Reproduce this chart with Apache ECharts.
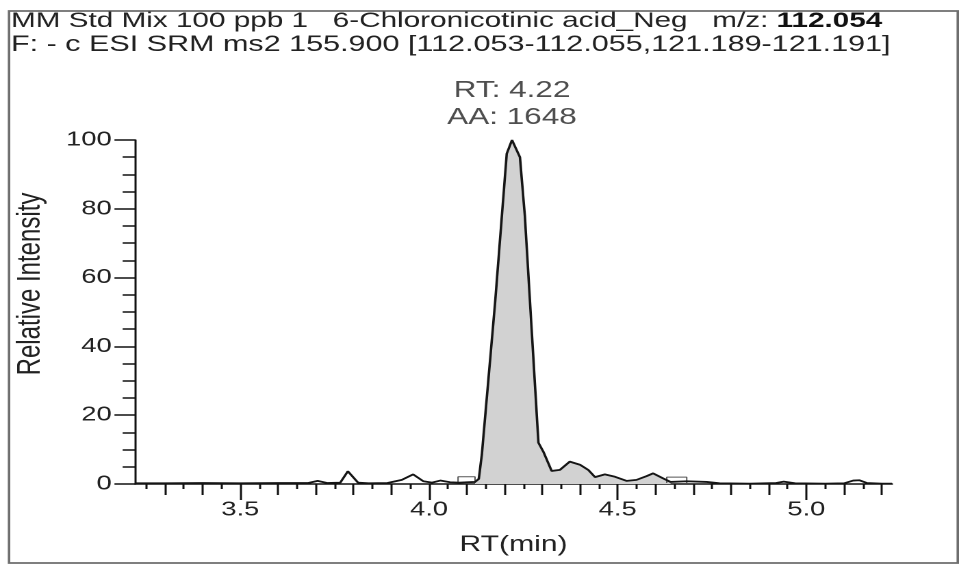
<!DOCTYPE html>
<html>
<head>
<meta charset="utf-8">
<title>6-Chloronicotinic acid SRM chromatogram</title>
<script src="https://cdn.jsdelivr.net/npm/echarts@6/dist/echarts.min.js"></script>
<style>
  html, body { margin: 0; padding: 0; background: #ffffff; overflow: hidden; }
  /* The instrument report uses a wide text face: the plot is laid out at 702px
     and widened to fill the 961px page. */
  #chart { width: 702px; height: 570px; transform: scaleX(1.369); transform-origin: 0 0; }
</style>
</head>
<body>
<div id="chart"></div>
<script>
// Header lines
const headerLine1 = 'MM Std Mix 100 ppb 1   6-Chloronicotinic acid_Neg   m/z: ';
const headerMz = '112.054';
const headerLine2 = 'F: - c ESI SRM ms2 155.900 [112.053-112.055,121.189-121.191]';

// Peak annotation
const peakRT = 4.22;
const peakArea = 1648;

// Retention time (min) and relative intensity (%) of the trace
const rtMin = [3.221, 3.30, 3.40, 3.50, 3.60, 3.68, 3.705, 3.73, 3.765, 3.785, 3.812, 3.84,
  3.89, 3.928, 3.958, 3.985, 4.008, 4.03, 4.056, 4.08, 4.10, 4.122, 4.132, 4.140, 4.175,
  4.206, 4.22, 4.241, 4.254, 4.272, 4.29, 4.303, 4.325, 4.347, 4.373, 4.40, 4.422, 4.44,
  4.466, 4.493, 4.524, 4.55, 4.577, 4.594, 4.621, 4.64, 4.683, 4.736, 4.77, 4.85, 4.92,
  4.94, 4.97, 5.05, 5.10, 5.124, 5.14, 5.16, 5.20, 5.227];
const intensity = [0.2, 0.2, 0.3, 0.2, 0.3, 0.3, 0.9, 0.3, 0.4, 3.7, 0.4, 0.2,
  0.3, 1.2, 2.8, 0.8, 0.4, 1.0, 0.5, 0.4, 0.5, 0.6, 1.5, 8.5, 52.5,
  96, 100, 95, 78, 45, 12, 9.4, 3.8, 4.1, 6.5, 5.6, 4.1, 2.0,
  2.8, 2.1, 0.9, 1.2, 2.3, 3.1, 1.6, 0.6, 0.8, 0.6, 0.2, 0.1, 0.3,
  0.7, 0.2, 0.1, 0.2, 1.0, 1.1, 0.3, 0.1, 0.1];

// Integrated peak window (min)
const peakStart = 4.122;
const peakEnd = 4.64;

// Baseline boundary boxes (RT, intensity)
const boxLeft = [[4.077, 0.3], [4.077, 2.1], [4.122, 2.1], [4.122, 0.3]];
const boxRight = [[4.63, 0.3], [4.63, 2.0], [4.683, 2.0], [4.683, 0.3]];

// Axis range and labelled ticks
const xMin = 3.221;
const xMax = 5.227;
const xLabels = [3.5, 4.0, 4.5, 5.0];
const yLabels = [0, 20, 40, 60, 80, 100];

// Tick positions: 0.1 min (long) and 0.05 min (short)
const tenthTicks = [];
const halfTenthTicks = [];
for (let k = 0; k < 40; k++) {
  const t = Math.round((3.25 + k * 0.05) * 1000) / 1000;
  if (t > xMax) break;
  const onTenth = Math.abs(Math.round(t * 10) - t * 10) < 1e-6;
  if (onTenth) {
    if (xLabels.indexOf(t) < 0) tenthTicks.push(t);
  } else {
    halfTenthTicks.push(t);
  }
}

const FONT = '"Liberation Sans", Arial, sans-serif';
const TEXT = '#222222';

const trace = rtMin.map((t, i) => [t, intensity[i]]);
const peakFill = trace.filter(p => p[0] >= peakStart && p[0] <= peakEnd);

function tickAxis(values, len, showLine, showLabel) {
  return {
    type: 'value', gridIndex: 0, position: 'bottom',
    min: xMin, max: xMax,
    axisLine: { show: showLine, onZero: false, lineStyle: { color: '#111', width: 1.6 } },
    axisTick: { show: true, customValues: values, length: len, lineStyle: { color: '#111', width: 1.5 } },
    axisLabel: showLabel ? {
      customValues: xLabels, fontSize: 20, fontFamily: FONT, color: TEXT, margin: 16,
      formatter: v => v.toFixed(1)
    } : { show: false },
    splitLine: { show: false }
  };
}

const chart = echarts.init(document.getElementById('chart'), null, { renderer: 'canvas', devicePixelRatio: 2 });

const mainX = tickAxis(xLabels, 16, true, true);
mainX.name = 'RT(min)';
mainX.nameLocation = 'middle';
mainX.nameGap = 50;
mainX.nameTextStyle = { fontSize: 22, fontFamily: FONT, color: TEXT };

chart.setOption({
  backgroundColor: '#ffffff',
  animation: false,
  grid: { left: 98.6, right: 50.4, top: 140, bottom: 86 },
  xAxis: [mainX, tickAxis(tenthTicks, 11, false, false), tickAxis(halfTenthTicks, 5, false, false)],
  yAxis: {
    type: 'value', min: 0, max: 100, interval: 20,
    axisLine: { show: true, lineStyle: { color: '#111', width: 1.5 } },
    axisTick: { show: true, length: 15, lineStyle: { color: '#111', width: 1.5 } },
    minorTick: { show: true, splitNumber: 4, length: 9, lineStyle: { color: '#111', width: 1.5 } },
    axisLabel: { fontSize: 20, fontFamily: FONT, color: TEXT, margin: 17, customValues: yLabels },
    splitLine: { show: false },
    name: 'Relative Intensity', nameLocation: 'middle', nameRotate: 90, nameGap: 64,
    nameTextStyle: { fontSize: 24, fontFamily: FONT, color: TEXT, padding: [0, 0, 0, 56] }
  },
  graphic: [
    {
      type: 'rect', shape: { x: 6.6, y: 11, width: 693, height: 552 },
      style: { fill: 'none', stroke: '#6e6e6e', lineWidth: 1.8 }, silent: true
    },
    {
      type: 'text', x: 8, y: 10,
      style: {
        text: '{n|' + headerLine1 + '}{b|' + headerMz + '}',
        rich: {
          n: { fontSize: 21.7, fontFamily: FONT, fill: TEXT },
          b: { fontSize: 21.7, fontFamily: FONT, fill: '#111', fontWeight: 'bold' }
        }
      }
    },
    {
      type: 'text', x: 8, y: 34,
      style: { text: headerLine2, fontSize: 22.3, fontFamily: FONT, fill: TEXT }
    }
  ],
  series: [
    {
      name: 'peak area', type: 'line', data: peakFill, showSymbol: false,
      lineStyle: { width: 0 }, areaStyle: { color: '#d2d2d2', opacity: 1 },
      z: 2, silent: true
    },
    {
      name: 'trace', type: 'line', data: trace, showSymbol: false,
      lineStyle: { color: '#151515', width: 1.8 }, z: 4, silent: true
    },
    {
      name: 'baseline box 1', type: 'line', data: boxLeft, showSymbol: false,
      lineStyle: { color: '#555', width: 1 }, z: 3, silent: true
    },
    {
      name: 'baseline box 2', type: 'line', data: boxRight, showSymbol: false,
      lineStyle: { color: '#555', width: 1 }, z: 3, silent: true
    },
    {
      name: 'apex', type: 'scatter', data: [[peakRT, 100]], symbolSize: 0, z: 5,
      label: {
        show: true, position: 'top', distance: 9,
        formatter: () => 'RT: ' + peakRT.toFixed(2) + '\nAA: ' + peakArea,
        fontSize: 23, lineHeight: 27, fontFamily: FONT, color: TEXT, align: 'center'
      }
    }
  ]
});
</script>
</body>
</html>
